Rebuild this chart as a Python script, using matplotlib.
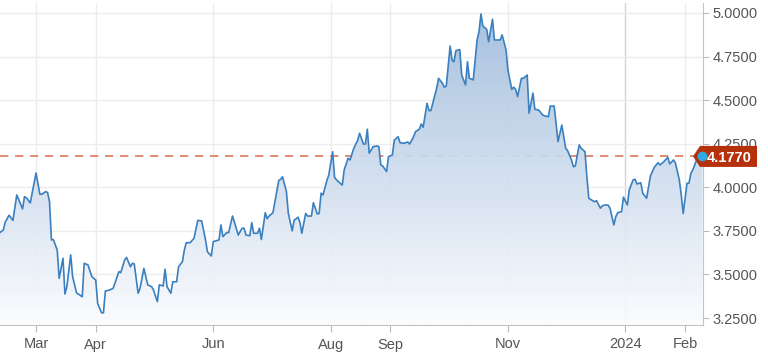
import numpy as np
import pandas as pd
import matplotlib
matplotlib.use("Agg")
import matplotlib.pyplot as plt
import matplotlib.dates as mdates
import matplotlib.transforms as mtransforms
from matplotlib.colors import LinearSegmentedColormap
from matplotlib.patches import PathPatch, Polygon
from matplotlib.ticker import FormatStrFormatter

plt.rcParams['font.family'] = ['Liberation Sans', 'DejaVu Sans']

# yield values
dates = [
    '2023-02-10', '2023-02-12', '2023-02-13', '2023-02-15', '2023-02-17', '2023-02-19', '2023-02-22',
    '2023-02-23', '2023-02-24', '2023-02-26', '2023-03-01', '2023-03-03', '2023-03-04', '2023-03-06',
    '2023-03-07', '2023-03-08', '2023-03-09', '2023-03-10', '2023-03-12', '2023-03-13', '2023-03-15',
    '2023-03-16', '2023-03-17', '2023-03-19', '2023-03-20', '2023-03-22', '2023-03-25', '2023-03-26',
    '2023-03-28', '2023-03-30', '2023-04-01', '2023-04-02', '2023-04-04', '2023-04-05', '2023-04-06',
    '2023-04-08', '2023-04-10', '2023-04-11', '2023-04-13', '2023-04-14', '2023-04-16', '2023-04-17',
    '2023-04-19', '2023-04-20', '2023-04-21', '2023-04-23', '2023-04-24', '2023-04-26', '2023-04-28',
    '2023-04-30', '2023-05-01', '2023-05-03', '2023-05-04', '2023-05-06', '2023-05-07', '2023-05-08',
    '2023-05-10', '2023-05-11', '2023-05-13', '2023-05-14', '2023-05-16', '2023-05-17', '2023-05-18',
    '2023-05-20', '2023-05-22', '2023-05-24', '2023-05-26', '2023-05-28', '2023-05-29', '2023-05-31',
    '2023-06-01', '2023-06-04', '2023-06-05', '2023-06-06', '2023-06-08', '2023-06-09', '2023-06-11',
    '2023-06-12', '2023-06-14', '2023-06-16', '2023-06-17', '2023-06-18', '2023-06-20', '2023-06-21',
    '2023-06-22', '2023-06-24', '2023-06-25', '2023-06-26', '2023-06-28', '2023-06-29', '2023-06-30',
    '2023-07-02', '2023-07-05', '2023-07-06', '2023-07-07', '2023-07-09', '2023-07-10', '2023-07-12',
    '2023-07-13', '2023-07-15', '2023-07-16', '2023-07-17', '2023-07-19', '2023-07-20', '2023-07-22',
    '2023-07-23', '2023-07-25', '2023-07-26', '2023-07-27', '2023-07-28', '2023-07-30', '2023-07-31',
    '2023-08-02', '2023-08-03', '2023-08-04', '2023-08-05', '2023-08-07', '2023-08-08', '2023-08-10',
    '2023-08-11', '2023-08-13', '2023-08-15', '2023-08-16', '2023-08-18', '2023-08-19', '2023-08-20',
    '2023-08-21', '2023-08-23', '2023-08-25', '2023-08-26', '2023-08-27', '2023-08-28', '2023-08-30',
    '2023-08-31', '2023-09-02', '2023-09-03', '2023-09-05', '2023-09-06', '2023-09-08', '2023-09-10',
    '2023-09-11', '2023-09-13', '2023-09-14', '2023-09-16', '2023-09-17', '2023-09-18', '2023-09-20',
    '2023-09-21', '2023-09-22', '2023-09-25', '2023-09-26', '2023-09-28', '2023-09-29', '2023-09-30',
    '2023-10-02', '2023-10-03', '2023-10-04', '2023-10-05', '2023-10-07', '2023-10-08', '2023-10-10',
    '2023-10-11', '2023-10-12', '2023-10-14', '2023-10-16', '2023-10-17', '2023-10-18', '2023-10-19',
    '2023-10-21', '2023-10-22', '2023-10-24', '2023-10-25', '2023-10-27', '2023-10-28', '2023-10-29',
    '2023-10-31', '2023-11-01', '2023-11-03', '2023-11-04', '2023-11-05', '2023-11-06', '2023-11-08',
    '2023-11-09', '2023-11-11', '2023-11-12', '2023-11-14', '2023-11-15', '2023-11-17', '2023-11-19',
    '2023-11-20', '2023-11-22', '2023-11-23', '2023-11-25', '2023-11-26', '2023-11-27', '2023-11-29',
    '2023-12-01', '2023-12-02', '2023-12-04', '2023-12-05', '2023-12-06', '2023-12-08', '2023-12-09',
    '2023-12-11', '2023-12-12', '2023-12-13', '2023-12-15', '2023-12-16', '2023-12-17', '2023-12-19',
    '2023-12-20', '2023-12-21', '2023-12-23', '2023-12-24', '2023-12-26', '2023-12-27', '2023-12-28',
    '2023-12-30', '2023-12-31', '2024-01-02', '2024-01-03', '2024-01-05', '2024-01-06', '2024-01-07',
    '2024-01-09', '2024-01-10', '2024-01-12', '2024-01-14', '2024-01-16', '2024-01-18', '2024-01-19',
    '2024-01-21', '2024-01-23', '2024-01-24', '2024-01-26', '2024-01-27', '2024-01-29', '2024-01-30',
    '2024-01-31', '2024-02-02', '2024-02-03', '2024-02-04', '2024-02-05', '2024-02-07', '2024-02-08',
    '2024-02-10',
]
yields = [
    3.738, 3.755, 3.800, 3.840, 3.810, 3.956, 3.876,
    3.946, 3.940, 3.910, 4.082, 3.960, 3.960, 3.975,
    3.970, 3.917, 3.698, 3.700, 3.640, 3.478, 3.593,
    3.388, 3.430, 3.612, 3.487, 3.395, 3.372, 3.564,
    3.554, 3.487, 3.468, 3.334, 3.280, 3.280, 3.405,
    3.410, 3.420, 3.450, 3.516, 3.510, 3.583, 3.598,
    3.544, 3.564, 3.560, 3.392, 3.420, 3.535, 3.440,
    3.430, 3.410, 3.344, 3.440, 3.434, 3.530, 3.430,
    3.392, 3.458, 3.458, 3.544, 3.573, 3.640, 3.682,
    3.682, 3.707, 3.810, 3.807, 3.698, 3.630, 3.606,
    3.688, 3.698, 3.784, 3.717, 3.740, 3.740, 3.835,
    3.800, 3.726, 3.765, 3.765, 3.726, 3.722, 3.797,
    3.736, 3.736, 3.765, 3.700, 3.854, 3.820, 3.835,
    3.854, 4.038, 4.046, 4.060, 3.975, 3.850, 3.750,
    3.810, 3.828, 3.800, 3.736, 3.850, 3.835, 3.835,
    3.912, 3.847, 3.850, 3.966, 3.956, 4.038, 4.070,
    4.204, 4.057, 4.042, 4.032, 4.013, 4.100, 4.166,
    4.157, 4.224, 4.270, 4.310, 4.248, 4.248, 4.333,
    4.195, 4.233, 4.237, 4.233, 4.128, 4.122, 4.090,
    4.176, 4.185, 4.270, 4.290, 4.256, 4.252, 4.260,
    4.248, 4.290, 4.319, 4.333, 4.363, 4.344, 4.482,
    4.440, 4.440, 4.568, 4.625, 4.597, 4.574, 4.580,
    4.810, 4.730, 4.720, 4.784, 4.790, 4.644, 4.587,
    4.720, 4.625, 4.616, 4.845, 4.893, 4.994, 4.925,
    4.906, 4.835, 4.964, 4.845, 4.845, 4.845, 4.874,
    4.790, 4.673, 4.562, 4.574, 4.562, 4.520, 4.625,
    4.625, 4.644, 4.425, 4.540, 4.447, 4.443, 4.415,
    4.410, 4.405, 4.466, 4.466, 4.367, 4.262, 4.357,
    4.224, 4.210, 4.157, 4.118, 4.122, 4.243, 4.224,
    4.204, 4.061, 3.937, 3.923, 3.917, 3.923, 3.880,
    3.893, 3.898, 3.898, 3.880, 3.784, 3.831, 3.854,
    3.860, 3.943, 3.898, 3.985, 4.042, 4.046, 4.019,
    4.026, 3.966, 3.937, 4.065, 4.115, 4.141, 4.128,
    4.147, 4.172, 4.134, 4.157, 4.138, 4.042, 3.956,
    3.850, 4.023, 4.023, 4.080, 4.100, 4.157, 4.165,
    4.177,
]
last_value = 4.1770

tick_dates = ['2023-03-01', '2023-04-01', '2023-06-01', '2023-08-01',
              '2023-09-01', '2023-11-01', '2024-01-01', '2024-02-01']
tick_labels = ['Mar', 'Apr', 'Jun', 'Aug', 'Sep', 'Nov', '2024', 'Feb']
y_ticks = [3.25, 3.5, 3.75, 4.0, 4.25, 4.5, 4.75, 5.0]

x = pd.to_datetime(dates)
xmin = pd.Timestamp('2023-02-10 07:00')
xmax = pd.Timestamp('2024-02-10 07:00')
ymin, ymax = 3.21, 5.057

fig = plt.figure(figsize=(7.68, 3.58), dpi=100)
ax = fig.add_axes([0, 33 / 358, 703 / 768, 322 / 358])

ax.plot(x, yields, color='#3a80c0', lw=1.2, zorder=3)

# gradient fill under the line
cmap = LinearSegmentedColormap.from_list('yfill', ['#fbfcfe', '#9fbbdc'])
grad = np.linspace(0, 1, 256).reshape(-1, 1)
im = ax.imshow(grad, cmap=cmap, aspect='auto', origin='lower', alpha=0.94, zorder=2,
               extent=[mdates.date2num(xmin), mdates.date2num(xmax), ymin, ymax])
area = ax.fill_between(x, yields, ymin, facecolor='none', edgecolor='none')
clip = PathPatch(area.get_paths()[0], transform=ax.transData, facecolor='none', edgecolor='none')
ax.add_patch(clip)
im.set_clip_path(clip)

ax.axhline(last_value, color='#dc7a5c', lw=1.2, dashes=(5, 4), zorder=1.5)

ax.set_xlim(xmin, xmax)
ax.set_ylim(ymin, ymax)

ax.set_xticks(pd.to_datetime(tick_dates))
ax.set_xticklabels(tick_labels)
ax.set_yticks(y_ticks)
ax.yaxis.set_major_formatter(FormatStrFormatter('%.4f'))
ax.yaxis.tick_right()

ax.set_axisbelow(True)
ax.grid(True, color='#ececec', lw=1)
ax.get_xgridlines()[6].set_color('#d4d4d4')

for s in ['left', 'top']:
    ax.spines[s].set_visible(False)
for s in ['right', 'bottom']:
    ax.spines[s].set_color('#c4c4c4')

ax.tick_params(axis='y', length=4, color='#bbbbbb', labelcolor='#555555', labelsize=10.5, pad=3)
ax.tick_params(axis='x', length=5, color='#bbbbbb', labelcolor='#555555', labelsize=10.5, pad=4)

# last value tag
trans = mtransforms.blended_transform_factory(ax.transAxes, ax.transData)
px, py = trans.transform((1.0, last_value))
tag = Polygon([(px - 10, py), (px - 3, py + 10.5), (px + 54, py + 10.5),
               (px + 54, py - 10.5), (px - 3, py - 10.5)],
              closed=True, transform=mtransforms.IdentityTransform(),
              facecolor='#b7300c', edgecolor='none', zorder=5, clip_on=False)
ax.add_patch(tag)
ax.annotate(f'{last_value:.4f}', xy=(1.0, last_value), xycoords=trans,
            xytext=(26 * 0.72, 0), textcoords='offset points', ha='center', va='center_baseline',
            color='white', fontsize=10.5, fontweight='bold', zorder=7, annotation_clip=False)
ax.plot(x[-1], yields[-1], 'o', color='#2eaae6', ms=6, mec='#2eaae6', zorder=6, clip_on=False)

fig.savefig('out.png', dpi=100, facecolor='white')
